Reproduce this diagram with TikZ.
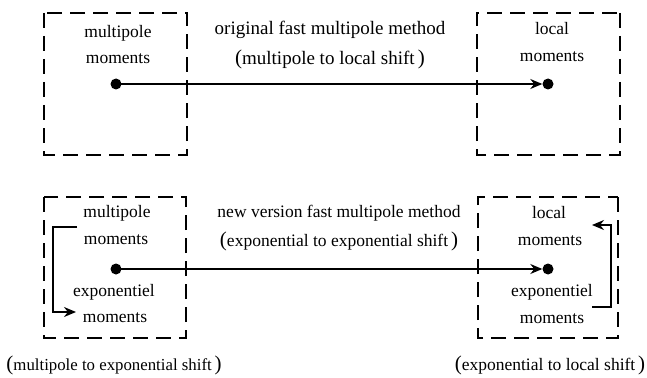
\documentclass[tikz,border=0pt]{standalone}
\usepackage{fontspec}
\setmainfont{Liberation Serif}
\usetikzlibrary{arrows.meta}
\newcommand{\bigparen}[1]{{\fontsize{21}{21}\selectfont #1}}
\begin{document}
\begin{tikzpicture}[x=1pt,y=-1pt,
  dashbox/.style={draw, line width=1.8pt, dash pattern=on 15pt off 8pt},
  dot/.style={circle, fill, inner sep=0pt, minimum size=11pt},
  lbl/.style={font=\fontsize{17.5}{17.5}\selectfont, inner sep=0pt},
  big/.style={font=\fontsize{19}{19}\selectfont, inner sep=0pt},
  conn/.style={line width=1.4pt, -{Stealth[length=12pt,width=10pt]}},
  bracket/.style={line width=1.4pt, -{Stealth[length=12pt,width=10pt]}}]
\useasboundingbox (0,0) rectangle (647,377);

% upper row: original method
\draw[dashbox] (44,13) rectangle (187,155);
\draw[dashbox] (620,13) rectangle (477,155);
\node[lbl] (tA1) at (118,33) {multipole};
\node[lbl] (tA2) at (118,59) {moments};
\node[lbl] (tB1) at (552,29) {local};
\node[lbl] (tB2) at (552,57) {moments};
\node[big] (title1) at (330,30) {original fast multipole method};
\node[big] (sub1) at (330,59) {\bigparen{(}multipole to local shift\,\bigparen{)}};
\node[dot] (pA) at (116,84) {};
\node[dot] (pB) at (548,84) {};
\draw[conn] (pA.center) -- (pB.west);

% lower row: new version
\draw[dashbox] (44,197) rectangle (186,338);
\draw[dashbox] (618,197) rectangle (478,338);
\node[lbl] (tC1) at (117,213) {multipole};
\node[lbl] (tC2) at (116,240) {moments};
\node[lbl] (tC3) at (114,292) {exponentiel};
\node[lbl] (tC4) at (115,318) {moments};
\node[lbl] (tD1) at (549,213) {local};
\node[lbl] (tD2) at (550,241) {moments};
\node[lbl] (tD3) at (552,292) {exponentiel};
\node[lbl] (tD4) at (552,319) {moments};
\node[lbl] (title2) at (339,213) {new version fast multipole method};
\node[lbl] (sub2) at (339,241) {\bigparen{(}exponential to exponential shift\,\bigparen{)}};
\node[dot] (pC) at (116,269) {};
\node[dot] (pD) at (548,269) {};
\draw[conn] (pC.center) -- (pD.west);

% side shifts inside the lower boxes
\coordinate (lTop) at (77,227);
\coordinate (lEnd) at (76,312);
\draw[bracket] (lTop) -| (53,312) -- (lEnd);
\coordinate (rBot) at (592,307);
\coordinate (rEnd) at (592,225);
\draw[bracket] (rBot) -| (611,225) -- (rEnd);

\node[font=\fontsize{16.8}{16.8}\selectfont, inner sep=0pt] (cap1) at (114,365) {\bigparen{(}multipole to exponential shift\,\bigparen{)}};
\node[lbl] (cap2) at (550,365) {\bigparen{(}exponential to local shift\,\bigparen{)}};
\end{tikzpicture}
\end{document}
